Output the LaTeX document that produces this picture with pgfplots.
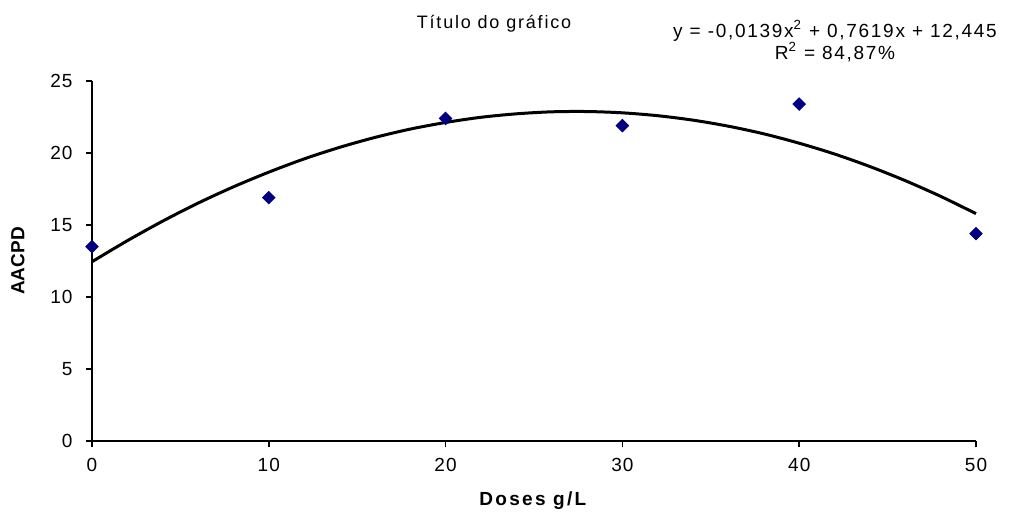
\documentclass[border=0pt]{standalone}
\usepackage{fontspec}
\setmainfont{Liberation Sans}
\usepackage{pgfplots}
\pgfplotsset{compat=1.18}
\definecolor{navyblue}{RGB}{0,0,128}

\begin{document}
\begin{tikzpicture}
\begin{axis}[
    name=ax,
    scale only axis, width=442pt, height=180pt,
    xmin=0, xmax=50, ymin=0, ymax=25,
    xtick={0,10,...,50}, ytick={0,5,...,25},
    axis x line=bottom, axis y line=left,
    axis line style={-, line width=1pt},
    tick align=outside, major tick length=3.2pt,
    tick style={black, line width=0.8pt},
    /pgf/number format/assume math mode=true,
    tick label style={font=\fontsize{9.5}{11}\selectfont\addfontfeatures{LetterSpace=6}},
    xticklabel style={yshift=-2pt},
    yticklabel style={xshift=-3pt},
    xlabel={\textbf{Doses g/L}}, ylabel={\textbf{AACPD}},
    xlabel style={font=\fontsize{9.5}{11}\selectfont\addfontfeatures{LetterSpace=12}, yshift=-3pt},
    ylabel style={font=\fontsize{9.5}{11}\selectfont, yshift=6pt},
    clip=false,
]
% trend line
\addplot[black, line width=1.5pt, smooth] coordinates {
    (0,12.45) (2,13.91) (4,15.27) (6,16.52) (8,17.65) (10,18.67)
    (12,19.59) (14,20.39) (16,21.08) (18,21.66) (20,22.12) (22,22.48)
    (24,22.72) (26,22.86) (28,22.88) (30,22.79) (32,22.59) (34,22.28)
    (36,21.86) (38,21.33) (40,20.68) (42,19.93) (44,19.06) (46,18.08)
    (48,16.99) (50,15.79)
};
% observed points
\addplot[only marks, mark=square*, mark size=2.2pt,
    mark options={rotate=45, fill=navyblue, draw=navyblue}] coordinates {
    (0,13.5) (10,16.9) (20,22.4) (30,21.9) (40,23.4) (50,14.4)
};
\end{axis}
\node[font=\fontsize{9}{11}\selectfont\addfontfeatures{LetterSpace=10}]
    at ([shift={(201pt,208.5pt)}]ax.south west) {Título do gráfico};
\node[font=\fontsize{9.5}{11}\selectfont\addfontfeatures{LetterSpace=9}, align=center]
    at ([shift={(371.5pt,200pt)}]ax.south west)
    {y = -0,0139x\textsuperscript{2} + 0,7619x + 12,445\\R\textsuperscript{2} = 84,87\%};
\path[use as bounding box] ([shift={(-46pt,-36.5pt)}]ax.south west) rectangle ++(504.5pt,257pt);
\end{tikzpicture}
\end{document}
